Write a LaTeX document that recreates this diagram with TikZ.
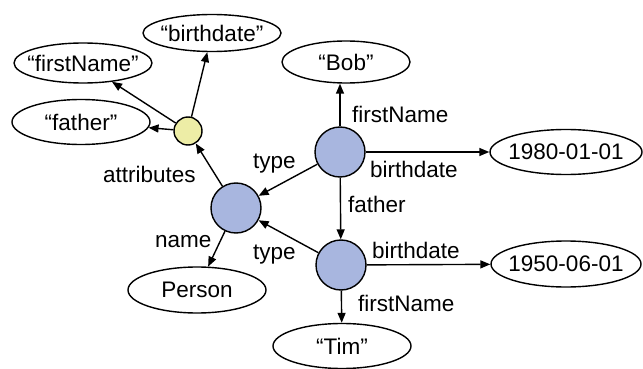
\documentclass[tikz,border=0pt]{standalone}
\usepackage{fontspec}
\setmainfont{Liberation Sans}
\usetikzlibrary{arrows.meta,shapes.geometric}
\definecolor{resblue}{RGB}{168,182,223}
\definecolor{attryellow}{RGB}{237,237,166}
\begin{document}
\begin{tikzpicture}[x=1pt,y=-1pt,
  every node/.style={font=\fontsize{22.5}{26}\selectfont},
  lit/.style={draw,line width=1.4pt,ellipse,inner sep=0pt,minimum width=138pt,minimum height=44pt},
  res/.style={draw,line width=1.4pt,circle,fill=resblue,inner sep=0pt,minimum size=50pt},
  attr/.style={draw,line width=1.4pt,circle,fill=attryellow,inner sep=0pt,minimum size=28pt},
  arr/.style={line width=1.4pt,-{Triangle[length=10pt,width=8pt]}},
  lbl/.style={anchor=base west,inner sep=0pt}]
\useasboundingbox (0,0) rectangle (643,369);

% resources
\node[res] (person) at (236,208) {};
\node[res] (bob)    at (340,152) {};
\node[res] (tim)    at (341,265) {};
\node[attr] (attrs) at (188,131) {};

% literals
\node[lit,minimum height=37pt,label={center:“birthdate”}] (lbirth) at (212,33) {};
\node[lit,minimum height=40pt,label={center:“firstName”}] (lfirst) at (83,63) {};
\node[lit,minimum height=45pt,label={center:“father”}]    (lfather) at (81,122) {};
\node[lit,minimum width=128pt,minimum height=42pt,label={center:“Bob”}] (bobname) at (346,62) {};
\node[lit,minimum width=152pt,minimum height=45pt,label={center:1980-01-01}] (bobdate) at (566,152) {};
\node[lit,minimum width=150pt,minimum height=46pt,label={center:1950-06-01}] (timdate) at (566,264) {};
\node[lit,minimum height=46pt,label={center:Person}] (pname) at (197,290) {};
\node[lit,minimum height=45pt,label={center:“Tim”}] (timname) at (342,346) {};

% edges
\draw[arr] (person) -- (attrs);
\draw[arr] (attrs) -- (lfirst);
\draw[arr] (attrs) -- (lfather);
\draw[arr] (attrs) -- (lbirth);
\draw[arr] (person) -- (pname);
\draw[arr] (bob) -- (bob |- bobname.south);
\draw[arr] (bob) -- (bobdate);
\draw[arr] (bob) -- (tim);
\draw[arr] (bob) -- (person);
\draw[arr] (tim) -- (person);
\draw[arr] (tim) -- (timdate);
\draw[arr] (tim) -- (timname);

% edge labels
\node[lbl] (t1) at (103,182) {attributes};
\node[lbl] (t2) at (155,247) {name};
\node[lbl] (t3) at (253,168) {type};
\node[lbl] (t4) at (253,259) {type};
\node[lbl] (t5) at (352,122) {firstName};
\node[lbl] (t6) at (370,177) {birthdate};
\node[lbl] (t7) at (348,212) {father};
\node[lbl] (t8) at (372,258) {birthdate};
\node[lbl] (t9) at (358,311) {firstName};
\end{tikzpicture}
\end{document}
